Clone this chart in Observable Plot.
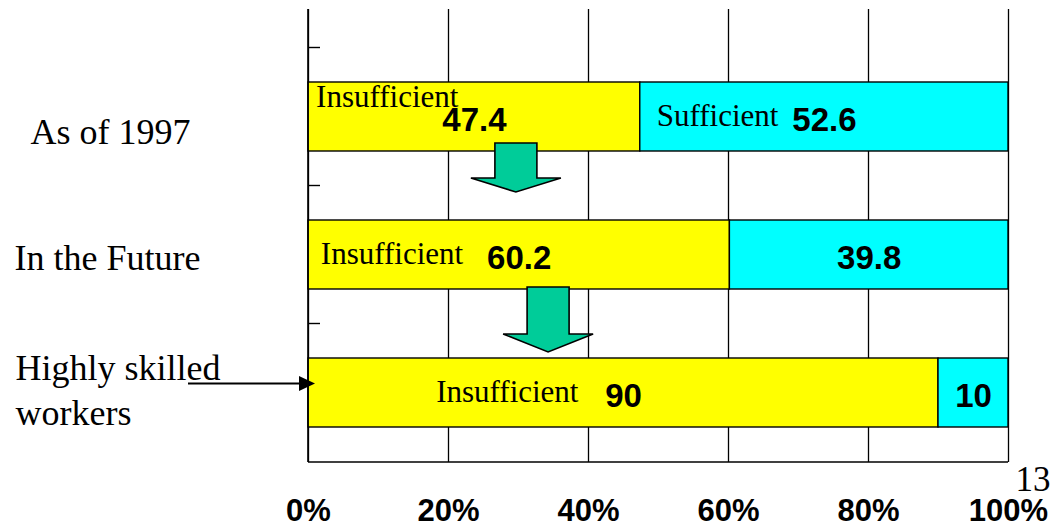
<!DOCTYPE html>
<html><head><meta charset="utf-8">
<script src="https://cdn.jsdelivr.net/npm/d3@7"></script>
<script src="https://cdn.jsdelivr.net/npm/@observablehq/plot@0.6"></script>
<style>
html,body{margin:0;padding:0;background:#fff;}
#chart{position:relative;width:1054px;height:527px;}
</style></head><body><div id="chart"></div>
<script>
// ---- data ----
const categories = ["As of 1997", "In the Future", "Highly skilled workers"];
const categoryText = ["As of 1997", "In the Future", "Highly skilled\nworkers"];
const insufficient = [47.4, 60.2, 90];
const sufficient = [52.6, 39.8, 10];
const segmentNames = ["Insufficient", "Sufficient"];
const segmentNotes = [["Insufficient", "Sufficient"], ["Insufficient", ""], ["Insufficient", ""]];
const xTicks = [0, 20, 40, 60, 80, 100];
const arrowsAt = [{x: 29.7, from: "As of 1997"}, {x: 34.3, from: "In the Future"}];
const pageNumber = "13";

// ---- derived table ----
const rows = categories.flatMap((cat, i) => {
  const a = insufficient[i], b = sufficient[i];
  return [
    {cat, seg: segmentNames[0], value: a, x1: 0, x2: a, note: segmentNotes[i][0]},
    {cat, seg: segmentNames[1], value: b, x1: a, x2: a + b, note: segmentNotes[i][1]}
  ];
});

// ---- styles ----
const serif = "'Liberation Serif','Times New Roman',Times,serif";
const sans = "'Liberation Sans',Arial,Helvetica,sans-serif";
const noteStyle = [{dx: -16, dy: -20}, {dx: -46, dy: -1}, {dx: -56, dy: -1}, null, {dx: -45, dy: -1}, null];
const catStyle = [{dx: -278, dy: 12.5}, {dx: -294, dy: 0}, {dx: -293, dy: -5}];
const arrowShape = [{top: -8, neck: 27, tip: 41}, {top: -2, neck: 45, tip: 63}];

function decor(index, scales, values, dimensions) {
  const {x, y} = scales;
  const bw = y.bandwidth(), step = y.step();
  const x0 = x(0), x100 = x(100);
  const top = dimensions.marginTop, bottom = dimensions.height - dimensions.marginBottom;
  const g = d3.create("svg:g").attr("stroke", "#000").attr("fill", "none");
  g.append("line").attr("x1", x0).attr("x2", x0).attr("y1", top).attr("y2", bottom).attr("stroke-width", 1.6);
  g.append("line").attr("x1", x0).attr("x2", x100).attr("y1", bottom).attr("y2", bottom).attr("stroke-width", 1.6);
  for (const c of y.domain()) {
    const yy = y(c) - (step - bw) / 2;
    g.append("line").attr("x1", x0).attr("x2", x0 + 12).attr("y1", yy).attr("y2", yy).attr("stroke-width", 1.4);
  }
  arrowsAt.forEach((a, i) => {
    const s = arrowShape[i];
    const cx = x(a.x), yb = y(a.from) + bw;
    const yt = yb + s.top, yn = yb + s.neck, yp = yb + s.tip;
    const pts = [[cx - 21, yt], [cx + 21, yt], [cx + 21, yn], [cx + 45, yn], [cx, yp], [cx - 45, yn], [cx - 21, yn]];
    g.append("path").attr("d", "M" + pts.join("L") + "Z").attr("fill", "#00cc99").attr("stroke-width", 1.6).attr("stroke-linejoin", "miter");
  });
  const yc = y(categories[2]) + bw / 2 - 9;
  g.append("line").attr("x1", x0 - 120).attr("x2", x0 - 4).attr("y1", yc).attr("y2", yc).attr("stroke-width", 2);
  g.append("path").attr("d", `M${x0 - 9},${yc - 7.5}L${x0 + 7},${yc}L${x0 - 9},${yc + 7.5}Z`).attr("fill", "#000").attr("stroke", "none");
  return g.node();
}

const noteMarks = rows.map((r, k) => noteStyle[k] && r.note ? Plot.text([r], {
  x: d => (d.x1 + d.x2) / 2, y: "cat", text: "note", textAnchor: "end",
  dx: noteStyle[k].dx, dy: noteStyle[k].dy,
  fontFamily: serif, fontWeight: "normal", fontSize: 31, fill: "#000"
}) : null).filter(Boolean);

const catMarks = categories.map((c, i) => Plot.text([c], {
  y: d => d, text: () => categoryText[i], frameAnchor: "left", textAnchor: "start",
  dx: catStyle[i].dx, dy: catStyle[i].dy, lineHeight: 1.27,
  fontFamily: serif, fontWeight: "normal", fontSize: 36, fill: "#000"
}));

const chart = Plot.plot({
  width: 1054, height: 527,
  marginLeft: 308, marginRight: 46, marginTop: 9, marginBottom: 65,
  style: {fontFamily: sans, fontSize: "31px", fontWeight: "bold", background: "#fff", overflow: "visible", color: "#000"},
  x: {domain: [0, 100], ticks: xTicks, tickFormat: d => d + "%", tickSize: 0, tickPadding: 36, label: null},
  y: {domain: categories, range: [47, 462], paddingInner: 0.5, paddingOuter: 0.25, axis: null},
  color: {domain: segmentNames, range: ["#ffff00", "#00ffff"]},
  marks: [
    Plot.ruleX(xTicks, {stroke: "#000", strokeWidth: 1.3}),
    Plot.barX(rows, {x1: "x1", x2: "x2", y: "cat", fill: "seg", stroke: "#000", strokeWidth: 1.4}),
    decor,
    Plot.text(rows, {x: d => (d.x1 + d.x2) / 2, y: "cat", text: d => String(d.value), dy: 3,
      fontFamily: sans, fontWeight: "bold", fontSize: 33, fill: "#000"}),
    ...noteMarks,
    ...catMarks,
    Plot.text([pageNumber], {frameAnchor: "bottom-right", text: d => d, textAnchor: "start", lineAnchor: "bottom",
      dx: 7, dy: 28, fontFamily: serif, fontWeight: "normal", fontSize: 35, fill: "#000"})
  ]
});
document.getElementById("chart").appendChild(chart);
</script></body></html>
